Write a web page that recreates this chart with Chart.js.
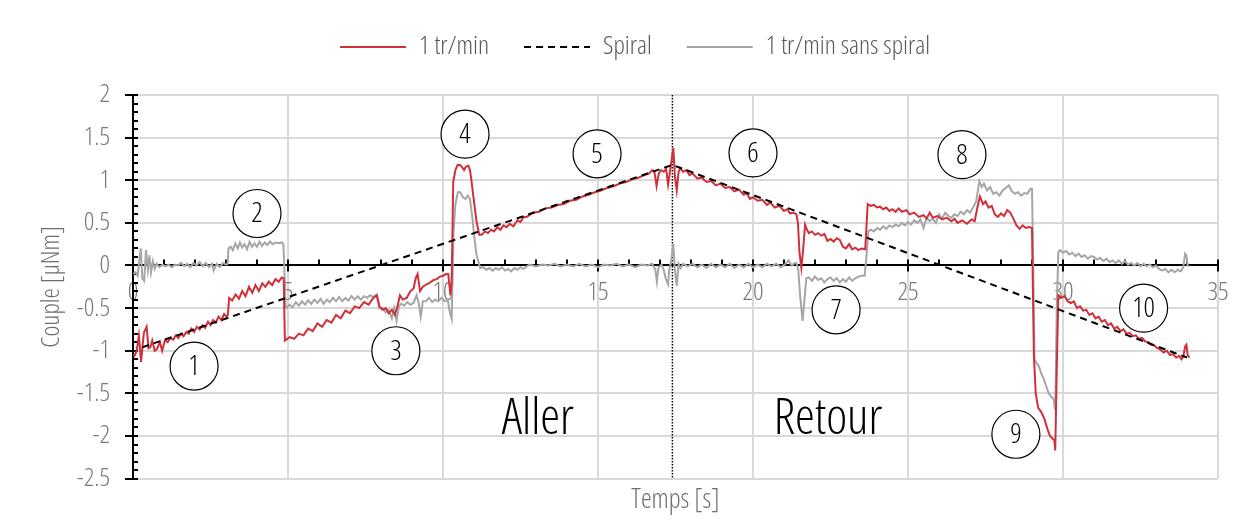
<!DOCTYPE html>
<html>
<head>
<meta charset="utf-8">
<script src="https://cdn.jsdelivr.net/npm/chart.js@4.4.1/dist/chart.umd.min.js"></script>
<style>
html,body{margin:0;padding:0;background:#fff;}
#wrap{width:1259px;height:529px;position:relative;}
</style>
</head>
<body>
<div id="wrap"><canvas id="c"></canvas></div>
<script>
// ---------- DATA ----------
const tRed = [0,0.05,0.12,0.19,0.26,0.35,0.44,0.5,0.56,0.62,0.7,0.77,0.87,0.94,1.03,1.12,1.2,1.3,1.38,1.46,1.55,1.63,1.72,1.8,1.88,1.97,2.06,2.15,2.24,2.33,2.42,2.5,2.58,2.67,2.76,2.85,2.94,3.02,3.06,3.1,3.2,3.31,3.42,3.52,3.63,3.74,3.85,3.95,4.06,4.17,4.27,4.38,4.49,4.6,4.7,4.8,4.86,4.9,5.05,5.2,5.35,5.5,5.65,5.8,5.95,6.1,6.25,6.4,6.55,6.7,6.85,7.0,7.15,7.3,7.45,7.6,7.75,7.87,7.95,8.05,8.15,8.25,8.35,8.45,8.55,8.61,8.7,8.83,8.95,9.05,9.12,9.18,9.26,9.35,9.47,9.58,9.7,9.8,9.9,10.0,10.1,10.17,10.24,10.28,10.33,10.4,10.47,10.55,10.62,10.68,10.74,10.82,10.87,10.92,11.0,11.08,11.17,11.25,11.35,11.45,11.55,11.65,11.75,11.85,11.95,12.05,12.15,12.27,12.4,12.5,12.6,12.7,12.9,13.1,13.3,13.5,13.7,13.9,14.1,14.3,14.5,14.7,14.9,15.1,15.3,15.5,15.7,15.9,16.1,16.3,16.5,16.65,16.75,16.82,16.89,16.96,17.04,17.12,17.2,17.26,17.33,17.43,17.48,17.54,17.6,17.65,17.75,17.85,17.95,18.05,18.2,18.35,18.5,18.65,18.8,18.95,19.1,19.25,19.4,19.55,19.7,19.8,19.9,20.0,20.15,20.3,20.45,20.55,20.7,20.85,21.0,21.1,21.2,21.3,21.4,21.45,21.5,21.56,21.62,21.68,21.74,21.8,21.9,22.0,22.1,22.2,22.3,22.4,22.5,22.6,22.7,22.8,22.9,23.0,23.1,23.2,23.3,23.4,23.5,23.62,23.7,23.8,23.9,24.0,24.1,24.2,24.3,24.4,24.5,24.6,24.7,24.8,24.95,25.05,25.2,25.35,25.5,25.6,25.7,25.8,25.95,26.1,26.25,26.4,26.5,26.6,26.75,26.9,27.05,27.15,27.25,27.32,27.42,27.5,27.6,27.7,27.8,27.9,28.0,28.1,28.2,28.3,28.4,28.5,28.6,28.7,28.8,28.9,29.0,29.06,29.12,29.2,29.3,29.4,29.5,29.58,29.66,29.72,29.75,29.8,29.85,29.95,30.05,30.15,30.25,30.35,30.45,30.55,30.65,30.75,30.85,30.95,31.05,31.15,31.25,31.35,31.45,31.55,31.65,31.75,31.85,31.95,32.05,32.15,32.25,32.35,32.45,32.55,32.65,32.75,32.85,32.95,33.05,33.15,33.25,33.35,33.45,33.55,33.65,33.75,33.82,33.88,33.94,33.98,34.02,34.08];
const redVals = [-1.05,-1.06,-1.0,-0.82,-1.13,-0.79,-0.72,-0.97,-0.96,-0.88,-1.0,-0.98,-0.9,-1.0,-0.88,-0.9,-0.85,-0.87,-0.82,-0.85,-0.8,-0.83,-0.78,-0.8,-0.74,-0.78,-0.72,-0.75,-0.7,-0.73,-0.66,-0.7,-0.64,-0.67,-0.6,-0.64,-0.57,-0.6,-0.58,-0.38,-0.41,-0.34,-0.39,-0.3,-0.36,-0.25,-0.32,-0.23,-0.3,-0.21,-0.25,-0.19,-0.23,-0.16,-0.19,-0.14,-0.15,-0.88,-0.84,-0.86,-0.8,-0.82,-0.74,-0.77,-0.68,-0.72,-0.64,-0.67,-0.58,-0.62,-0.53,-0.56,-0.48,-0.5,-0.43,-0.46,-0.38,-0.35,-0.48,-0.52,-0.5,-0.56,-0.52,-0.58,-0.45,-0.35,-0.4,-0.38,-0.3,-0.27,-0.15,-0.1,-0.3,-0.25,-0.22,-0.2,-0.17,-0.16,-0.13,-0.12,-0.1,-0.1,-0.35,-0.2,0.98,1.12,1.18,1.18,1.15,1.12,1.16,1.17,1.12,0.99,0.75,0.52,0.36,0.36,0.4,0.38,0.42,0.4,0.45,0.42,0.47,0.45,0.49,0.46,0.53,0.51,0.57,0.57,0.62,0.63,0.67,0.68,0.71,0.72,0.76,0.77,0.81,0.83,0.86,0.88,0.91,0.93,0.96,0.98,1.01,1.03,1.06,1.08,1.12,1.1,0.93,1.08,1.12,1.1,1.13,0.95,1.12,1.38,1.05,0.88,1.1,1.14,1.1,1.12,1.06,1.08,1.02,1.03,0.98,0.99,0.94,0.96,0.91,0.92,0.87,0.89,0.83,0.85,0.78,0.8,0.76,0.77,0.71,0.74,0.68,0.7,0.64,0.66,0.61,0.62,0.6,0.5,0.15,-0.03,0.2,0.48,0.42,0.38,0.4,0.36,0.38,0.35,0.37,0.29,0.31,0.28,0.32,0.3,0.22,0.2,0.25,0.19,0.21,0.18,0.2,0.19,0.72,0.7,0.71,0.68,0.69,0.66,0.68,0.64,0.66,0.63,0.67,0.63,0.65,0.6,0.62,0.57,0.59,0.55,0.62,0.56,0.58,0.54,0.56,0.52,0.55,0.5,0.53,0.49,0.54,0.52,0.7,0.81,0.72,0.75,0.68,0.7,0.6,0.57,0.61,0.58,0.65,0.62,0.55,0.47,0.43,0.47,0.44,0.45,0.44,-1.05,-1.5,-1.67,-1.72,-1.8,-1.92,-2.0,-2.03,-2.05,-2.17,-1.2,-0.35,-0.38,-0.36,-0.42,-0.44,-0.42,-0.5,-0.48,-0.53,-0.52,-0.58,-0.56,-0.62,-0.6,-0.66,-0.64,-0.7,-0.68,-0.74,-0.72,-0.77,-0.75,-0.8,-0.79,-0.83,-0.82,-0.86,-0.85,-0.89,-0.9,-0.93,-0.94,-0.97,-0.99,-1.02,-1.0,-1.05,-1.04,-1.08,-1.06,-1.1,-1.07,-0.95,-0.93,-1.05,-1.08];

const tGray = [0,0.08,0.15,0.2,0.25,0.3,0.36,0.42,0.48,0.53,0.58,0.64,0.7,0.76,0.85,0.95,1.05,1.15,1.25,1.35,1.45,1.55,1.65,1.75,1.85,1.95,2.05,2.15,2.25,2.35,2.45,2.55,2.6,2.7,2.8,2.9,3.0,3.05,3.08,3.15,3.22,3.3,3.38,3.45,3.52,3.6,3.68,3.76,3.84,3.92,4.0,4.08,4.16,4.25,4.33,4.42,4.5,4.6,4.7,4.8,4.85,4.88,4.92,4.95,5.05,5.15,5.25,5.35,5.45,5.55,5.65,5.75,5.85,5.95,6.05,6.15,6.25,6.35,6.45,6.55,6.65,6.75,6.85,6.95,7.05,7.15,7.25,7.35,7.45,7.55,7.65,7.75,7.85,7.95,8.05,8.15,8.25,8.35,8.42,8.5,8.58,8.65,8.75,8.85,8.95,9.05,9.15,9.22,9.28,9.35,9.45,9.55,9.65,9.75,9.85,9.95,10.05,10.15,10.22,10.28,10.34,10.4,10.48,10.56,10.64,10.72,10.8,10.87,10.95,11.02,11.08,11.16,11.2,11.3,11.4,11.5,11.6,11.7,11.8,11.9,12.0,12.1,12.2,12.3,12.4,12.5,12.6,12.7,12.8,13.0,13.2,13.4,13.6,13.8,14.0,14.2,14.4,14.6,14.8,15.0,15.2,15.4,15.6,15.8,16.0,16.2,16.4,16.6,16.75,16.85,16.9,16.95,17.05,17.12,17.18,17.26,17.3,17.36,17.43,17.48,17.54,17.6,17.66,17.75,17.9,18.05,18.2,18.35,18.5,18.65,18.8,18.95,19.1,19.25,19.4,19.55,19.7,19.85,20.0,20.15,20.3,20.45,20.6,20.75,20.9,21.05,21.15,21.25,21.35,21.4,21.46,21.52,21.6,21.66,21.72,21.8,21.9,22.0,22.1,22.2,22.3,22.4,22.5,22.6,22.7,22.8,22.9,23.0,23.1,23.2,23.3,23.4,23.5,23.6,23.66,23.72,23.8,23.9,24.0,24.1,24.2,24.3,24.4,24.5,24.6,24.7,24.8,24.9,25.0,25.1,25.2,25.3,25.4,25.5,25.6,25.7,25.8,25.9,26.0,26.1,26.2,26.3,26.4,26.5,26.6,26.7,26.8,26.9,27.0,27.1,27.2,27.3,27.38,27.45,27.55,27.65,27.75,27.85,27.95,28.05,28.15,28.25,28.35,28.45,28.55,28.65,28.75,28.85,28.95,29.0,29.04,29.08,29.15,29.22,29.3,29.38,29.46,29.54,29.62,29.7,29.75,29.8,29.85,29.9,30.0,30.1,30.2,30.3,30.4,30.5,30.6,30.7,30.8,30.9,31.0,31.1,31.2,31.3,31.4,31.5,31.6,31.7,31.8,31.9,32.0,32.1,32.2,32.3,32.4,32.5,32.6,32.7,32.8,32.9,33.0,33.1,33.2,33.3,33.4,33.5,33.6,33.7,33.8,33.88,33.94,33.98,34.02,34.06];
const grayVals = [-0.1,-0.08,-0.12,0.05,0.2,-0.15,-0.18,0.18,-0.05,0.12,-0.08,0.05,-0.04,0.02,-0.02,0.01,-0.01,0.01,-0.02,0.01,0.0,0.03,-0.01,0.02,-0.02,0.03,0.0,0.04,-0.01,0.03,-0.02,0.02,-0.06,0.02,-0.02,0.03,0.01,0.02,0.2,0.22,0.18,0.26,0.2,0.27,0.21,0.25,0.19,0.28,0.22,0.26,0.22,0.28,0.23,0.27,0.24,0.28,0.25,0.27,0.26,0.27,0.25,0.0,-0.48,-0.5,-0.46,-0.49,-0.43,-0.47,-0.42,-0.46,-0.41,-0.45,-0.4,-0.44,-0.39,-0.45,-0.4,-0.43,-0.38,-0.42,-0.37,-0.42,-0.38,-0.41,-0.36,-0.4,-0.36,-0.4,-0.36,-0.38,-0.35,-0.37,-0.34,-0.5,-0.5,-0.55,-0.52,-0.62,-0.5,-0.65,-0.48,-0.45,-0.47,-0.43,-0.46,-0.44,-0.35,-0.45,-0.6,-0.42,-0.42,-0.38,-0.43,-0.4,-0.42,-0.38,-0.42,-0.4,-0.55,-0.63,0.4,0.72,0.86,0.86,0.8,0.78,0.82,0.78,0.55,0.3,0.13,0.02,-0.03,-0.02,-0.05,-0.03,-0.06,-0.03,-0.05,-0.02,-0.06,-0.04,-0.07,-0.03,-0.05,-0.02,-0.04,-0.01,0.01,-0.01,0.01,0.0,0.02,-0.01,0.01,-0.01,0.02,-0.01,0.01,-0.02,0.01,0.0,0.02,-0.01,0.01,-0.02,0.01,0.0,0.02,-0.05,-0.19,-0.02,0.01,-0.05,-0.15,-0.22,-0.05,0.05,0.25,-0.05,-0.24,0.02,-0.03,0.02,-0.01,0.02,-0.02,0.01,-0.03,0.02,-0.02,0.01,-0.02,0.02,-0.03,0.01,-0.02,0.02,-0.02,0.01,-0.02,0.02,-0.01,0.02,-0.02,0.02,0.06,0.0,0.03,0.03,-0.05,-0.35,-0.65,-0.4,-0.15,-0.14,-0.18,-0.13,-0.17,-0.15,-0.2,-0.16,-0.14,-0.18,-0.15,-0.2,-0.16,-0.19,-0.14,-0.18,-0.15,-0.13,-0.12,-0.12,0.1,0.4,0.42,0.4,0.44,0.42,0.46,0.43,0.47,0.45,0.48,0.46,0.5,0.47,0.51,0.48,0.53,0.5,0.54,0.44,0.56,0.52,0.55,0.5,0.6,0.55,0.62,0.58,0.56,0.6,0.58,0.63,0.6,0.65,0.62,0.68,0.75,0.99,0.92,0.96,0.88,0.92,0.84,0.86,0.82,0.88,0.91,0.94,0.87,0.84,0.86,0.82,0.85,0.84,0.9,0.9,0.0,-1.1,-1.15,-1.18,-1.27,-1.33,-1.42,-1.5,-1.54,-1.57,-1.7,-0.5,0.16,0.18,0.15,0.17,0.13,0.15,0.11,0.14,0.1,0.12,0.08,0.11,0.1,0.07,0.09,0.05,0.08,0.04,0.06,0.03,0.06,0.02,0.05,0.01,0.03,0.0,0.03,-0.01,0.02,-0.01,0.01,-0.02,0.0,-0.04,-0.06,-0.04,-0.08,-0.05,-0.08,-0.05,-0.07,-0.02,0.14,0.12,0.0,0.0];

const tSpiral = [0.3, 17.4, 34.0];
const spiralVals = [-0.96, 1.18, -1.08];

const seriesNames = ['1 tr/min', 'Spiral', '1 tr/min sans spiral'];
const xTickValues = [0, 5, 10, 15, 20, 25, 30, 35];
const turnaroundT = 17.4;

const markerLabels = ['1','2','3','4','5','6','7','8','9','10'];
const markerT = [1.97, 4.0, 8.48, 10.71, 14.97, 20.0, 22.68, 26.74, 28.48, 32.6];
const markerV = [-1.18, 0.61, -1.0, 1.54, 1.31, 1.32, -0.52, 1.3, -1.98, -0.5];

const phaseLabels = ['Aller', 'Retour'];
const phaseT = [13.06, 22.42];
const phaseV = [-1.98, -1.98];

// ---------- CHART ----------
const FAMILY = "'Open Sans', 'Roboto Condensed', sans-serif";
const WEIGHT = '300 condensed';
Chart.defaults.font.family = FAMILY;
Chart.defaults.font.weight = WEIGHT;

const pts = (ts, vs) => ts.map((t, i) => ({x: t, y: vs[i]}));

const legendSpacer = {
  id: 'legendSpacer',
  beforeInit(chart) {
    const lg = chart.legend;
    if (!lg) return;
    const fit = lg.fit;
    lg.fit = function () { fit.call(this); this.height += 25; };
  }
};

const overlay = {
  id: 'overlay',
  beforeDatasetsDraw(chart) {
    const {ctx, chartArea: a, scales: {x, y}} = chart;
    ctx.save();
    const xd = x.getPixelForValue(turnaroundT);
    ctx.strokeStyle = '#000';
    ctx.lineWidth = 1.5;
    ctx.setLineDash([1.5, 1.5]);
    ctx.beginPath(); ctx.moveTo(xd, a.top); ctx.lineTo(xd, a.bottom); ctx.stroke();
    ctx.setLineDash([]);
    ctx.lineWidth = 2;
    const left = a.left;
    for (let k = -25; k <= 20; k++) {
      const py = Math.round(y.getPixelForValue(k / 10));
      const major = k % 5 === 0;
      ctx.beginPath();
      ctx.moveTo(major ? left - 8 : left, py);
      ctx.lineTo(left + 5, py);
      ctx.stroke();
    }
    ctx.beginPath(); ctx.moveTo(left, a.top); ctx.lineTo(left, a.bottom); ctx.stroke();
    const y0 = y.getPixelForValue(0);
    for (let k = 1; k <= 35; k++) {
      const px = x.getPixelForValue(k);
      const major = k % 5 === 0;
      ctx.beginPath();
      ctx.moveTo(px, y0 - 6);
      ctx.lineTo(px, major ? y0 + 6 : y0);
      ctx.stroke();
    }
    ctx.restore();
  },
  afterDatasetsDraw(chart) {
    const {ctx, scales: {x, y}} = chart;
    ctx.save();
    ctx.lineWidth = 1.2;
    ctx.strokeStyle = '#000';
    ctx.textAlign = 'center';
    ctx.textBaseline = 'middle';
    ctx.font = "300 condensed 28px " + FAMILY;
    markerLabels.forEach((lab, i) => {
      const px = x.getPixelForValue(markerT[i]);
      const py = y.getPixelForValue(markerV[i]);
      ctx.beginPath();
      ctx.arc(px, py, 24, 0, Math.PI * 2);
      ctx.fillStyle = '#fff';
      ctx.fill();
      ctx.stroke();
      ctx.fillStyle = '#000';
      ctx.fillText(lab, px, py + 1);
    });
    ctx.font = "300 condensed 50px " + FAMILY;
    ctx.textBaseline = 'alphabetic';
    phaseLabels.forEach((lab, i) => {
      ctx.fillText(lab, x.getPixelForValue(phaseT[i]), y.getPixelForValue(phaseV[i]));
    });
    ctx.restore();
  }
};

new Chart(document.getElementById('c'), {
  type: 'line',
  data: {
    datasets: [
      {label: seriesNames[0], data: pts(tRed, redVals), borderColor: '#d0303a', backgroundColor: '#d0303a', borderWidth: 2, pointRadius: 0, tension: 0, order: 2},
      {label: seriesNames[1], data: pts(tSpiral, spiralVals), borderColor: '#000', backgroundColor: '#000', borderWidth: 2, borderDash: [7, 5], pointRadius: 0, tension: 0, order: 1},
      {label: seriesNames[2], data: pts(tGray, grayVals), borderColor: '#a6a6a6', backgroundColor: '#a6a6a6', borderWidth: 2, pointRadius: 0, tension: 0, order: 3}
    ]
  },
  options: {
    responsive: true,
    maintainAspectRatio: false,
    animation: false,
    layout: {padding: {left: 52, right: 41, top: -1, bottom: 0}},
    plugins: {
      legend: {
        position: 'top',
        labels: {
          usePointStyle: true,
          pointStyle: 'line',
          pointStyleWidth: 66,
          color: '#595959',
          font: {size: 26},
          padding: 35,
          sort: (a, b) => a.datasetIndex - b.datasetIndex,
          generateLabels(chart) {
            const items = Chart.defaults.plugins.legend.labels.generateLabels(chart);
            items.forEach(it => {
              const ds = chart.data.datasets[it.datasetIndex];
              it.lineDash = ds.borderDash || [];
              it.lineWidth = 2;
              it.strokeStyle = ds.borderColor;
              it.fillStyle = ds.borderColor;
              it.pointStyle = 'line';
            });
            return items;
          }
        }
      },
      title: {
        display: true,
        position: 'bottom',
        fullSize: false,
        text: 'Temps [s]',
        color: '#6d6d6d',
        font: {size: 27, weight: WEIGHT},
        padding: {top: 6, bottom: 12}
      },
      tooltip: {enabled: false}
    },
    scales: {
      x: {
        type: 'linear',
        position: {y: 0},
        min: 0, max: 35,
        afterBuildTicks(s) { s.ticks = xTickValues.map(v => ({value: v})); },
        grid: {color: '#d9d9d9', lineWidth: 2, drawTicks: false},
        border: {display: true, color: '#000', width: 2},
        ticks: {color: '#7a7a7a', font: {size: 26}, padding: 12, maxRotation: 0, autoSkip: false}
      },
      y: {
        type: 'linear',
        min: -2.5, max: 2,
        afterFit(s) { s.width = 81; },
        grid: {color: '#d9d9d9', lineWidth: 2, drawTicks: false},
        border: {display: true, color: '#000', width: 2},
        ticks: {stepSize: 0.5, color: '#7a7a7a', font: {size: 26}, padding: 23, callback: v => String(v)},
        title: {display: true, text: 'Couple [μNm]', color: '#6d6d6d', font: {size: 26}, padding: {top: -15.6, bottom: 0}}
      }
    }
  },
  plugins: [legendSpacer, overlay]
});
</script>
</body>
</html>
